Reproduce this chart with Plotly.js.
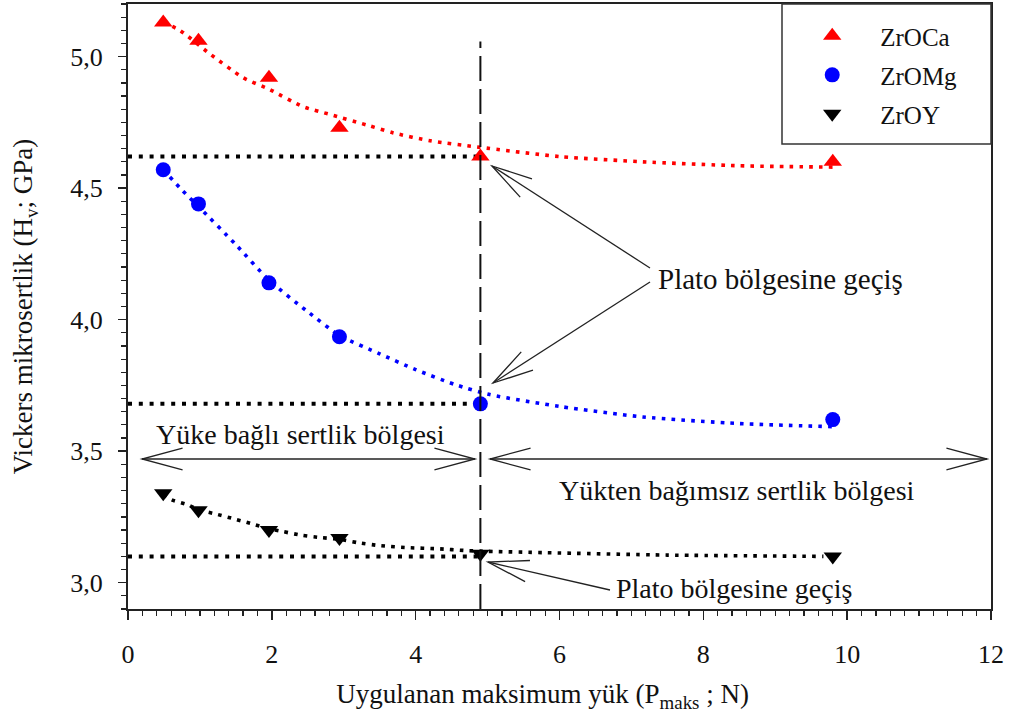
<!DOCTYPE html>
<html><head><meta charset="utf-8">
<script src="https://cdn.plot.ly/plotly-3.0.1.min.js"></script>
<style>html,body{margin:0;padding:0;background:#fff}</style>
</head><body><div id="chart" style="width:1009px;height:724px"></div>
<script>
// ---- data ----
const loadN   = [0.49, 0.98, 1.96, 2.94, 4.9, 9.8];
const hvZrOCa = [5.13, 5.06, 4.92, 4.73, 4.62, 4.60];
const hvZrOMg = [4.57, 4.44, 4.14, 3.935, 3.68, 3.62];
const hvZrOY  = [3.34, 3.275, 3.20, 3.17, 3.11, 3.10];

// dotted trend curves
const fitX_ZrOCa = [0.49, 0.72, 1.14, 1.6, 1.97, 2.43, 2.81, 3.32, 3.69, 4.2, 4.9, 6.0, 7.16, 8.5, 9.8];
const fitY_ZrOCa = [5.13, 5.10, 5.01, 4.92, 4.875, 4.81, 4.78, 4.74, 4.71, 4.68, 4.655, 4.62, 4.60, 4.585, 4.58];
const fitX_ZrOMg = [0.49, 0.76, 0.98, 1.5, 1.96, 2.5, 2.94, 3.5, 4.0, 4.55, 5.03, 6.0, 7.16, 8.5, 9.8];
const fitY_ZrOMg = [4.57, 4.49, 4.43, 4.285, 4.15, 4.03, 3.94, 3.87, 3.81, 3.753, 3.715, 3.67, 3.63, 3.605, 3.593];
const fitX_ZrOY  = [0.49, 0.61, 0.82, 0.98, 1.25, 1.51, 1.77, 1.96, 2.16, 2.42, 2.70, 2.94, 3.2, 3.5, 3.9, 4.3, 4.71, 4.9, 5.83, 7.5, 9.67];
const fitY_ZrOY  = [3.335, 3.315, 3.297, 3.278, 3.259, 3.24, 3.22, 3.205, 3.194, 3.18, 3.171, 3.165, 3.152, 3.141, 3.133, 3.129, 3.122, 3.12, 3.114, 3.105, 3.10];

// plateau reference levels
const plateauX  = [0, 4.9];
const plateauCa = [4.62, 4.62];
const plateauMg = [3.68, 3.68];
const plateauY  = [3.10, 3.10];
const transitionLoad = 4.9;

// axis ticks
const xTickVals = [0, 2, 4, 6, 8, 10, 12];
const xTickText = ['0', '2', '4', '6', '8', '10', '12'];
const yTickVals = [3.0, 3.5, 4.0, 4.5, 5.0];
const yTickText = ['3,0', '3,5', '4,0', '4,5', '5,0'];

// annotation texts
const txtLoadDep   = 'Yüke bağlı sertlik bölgesi';
const txtLoadIndep = 'Yükten bağımsız sertlik bölgesi';
const txtPlateau   = 'Plato bölgesine geçiş';

// ---- layout geometry ----
const W = 1009, H = 724;
const M = {l: 128, r: 18, t: 4, b: 115};
const XR = [0, 12], YR = [2.9, 5.2];
const pxX = (W - M.l - M.r) / (XR[1] - XR[0]);
const pxY = (H - M.t - M.b) / (YR[1] - YR[0]);
const F = 'Liberation Serif';

function arrowHead(tip, from, len, ang) {
  let dx = (from[0] - tip[0]) * pxX, dy = -(from[1] - tip[1]) * pxY;
  const n = Math.hypot(dx, dy); dx /= n; dy /= n;
  const pts = [ang, -ang].map(a => {
    const c = Math.cos(a), s = Math.sin(a);
    const vx = (dx * c - dy * s) * len, vy = (dx * s + dy * c) * len;
    return [tip[0] + vx / pxX, tip[1] - vy / pxY];
  });
  return 'M' + pts[0][0] + ',' + pts[0][1] + ' L' + tip[0] + ',' + tip[1] + ' L' + pts[1][0] + ',' + pts[1][1];
}
const AL = 42, AA = 15 * Math.PI / 180;
const lineStyle = {color: '#222', width: 1.3};
function arrow(tip, tail, both) {
  const s = [{type: 'line', xref: 'x', yref: 'y', x0: tail[0], y0: tail[1], x1: tip[0], y1: tip[1], line: lineStyle},
             {type: 'path', xref: 'x', yref: 'y', path: arrowHead(tip, tail, AL, AA), line: lineStyle}];
  if (both) s.push({type: 'path', xref: 'x', yref: 'y', path: arrowHead(tail, tip, AL, AA), line: lineStyle});
  return s;
}
const toX = px => (px - M.l) / pxX;
const toY = py => YR[1] - (py - M.t) / pxY;

const shapes = [
  {type: 'line', xref: 'x', yref: 'y', x0: transitionLoad, x1: transitionLoad, y0: YR[0], y1: 5.057,
   line: {color: '#111', width: 2, dash: '25px,8px'}},
  ...arrow([toX(475), toY(459)], [toX(142), toY(459)], true),
  ...arrow([toX(987), toY(459)], [toX(490), toY(459)], true),
  ...arrow([toX(492), toY(166)], [toX(650), toY(268)], false),
  ...arrow([toX(493), toY(383)], [toX(650), toY(282)], false),
  ...arrow([toX(488), toY(562)], [toX(610), toY(590)], false),
  {type: 'rect', xref: 'paper', yref: 'paper', x0: (782 - M.l) / (W - M.l - M.r), x1: 1, y0: (H - M.b - 144) / (H - M.t - M.b), y1: 1,
   line: {color: '#333', width: 1.5}, fillcolor: 'rgba(0,0,0,0)'}
];

const annFont = {family: F, size: 28, color: '#111'};
const annotations = [
  {text: txtLoadDep, x: toX(154), y: toY(434), xref: 'x', yref: 'y', xanchor: 'left', yanchor: 'middle', showarrow: false, font: annFont},
  {text: txtLoadIndep, x: toX(557), y: toY(490), xref: 'x', yref: 'y', xanchor: 'left', yanchor: 'middle', showarrow: false, font: annFont},
  {text: txtPlateau, x: toX(656), y: toY(279), xref: 'x', yref: 'y', xanchor: 'left', yanchor: 'middle', showarrow: false, font: {family: F, size: 29, color: '#111'}},
  {text: txtPlateau, x: toX(614), y: toY(588), xref: 'x', yref: 'y', xanchor: 'left', yanchor: 'middle', showarrow: false, font: annFont}
];

const refLine = {color: '#000', width: 4, dash: '4px,6.8px'};
const traces = [
  {x: plateauX, y: plateauCa, mode: 'lines', line: refLine, showlegend: false, hoverinfo: 'skip'},
  {x: plateauX, y: plateauMg, mode: 'lines', line: refLine, showlegend: false, hoverinfo: 'skip'},
  {x: plateauX, y: plateauY,  mode: 'lines', line: refLine, showlegend: false, hoverinfo: 'skip'},
  {x: fitX_ZrOCa, y: fitY_ZrOCa, mode: 'lines', line: {color: '#ff0000', width: 3.6, dash: '3.6px,6.2px', shape: 'spline', smoothing: 0.6}, showlegend: false, hoverinfo: 'skip'},
  {x: fitX_ZrOMg, y: fitY_ZrOMg, mode: 'lines', line: {color: '#0000ff', width: 3.6, dash: '3.6px,6.2px', shape: 'spline', smoothing: 0.6}, showlegend: false, hoverinfo: 'skip'},
  {x: fitX_ZrOY,  y: fitY_ZrOY,  mode: 'lines', line: {color: '#000000', width: 3.6, dash: '3.6px,6.2px', shape: 'spline', smoothing: 0.6}, showlegend: false, hoverinfo: 'skip'},
  {x: loadN, y: hvZrOCa, name: 'ZrOCa', legendgroup: 'ca', mode: 'markers', marker: {symbol: 'triangle-up', size: 16, color: '#ff0000'}},
  {x: loadN, y: hvZrOMg, name: 'ZrOMg', legendgroup: 'mg', mode: 'markers', marker: {symbol: 'circle', size: 15, color: '#0000ff'}},
  {x: loadN, y: hvZrOY,  name: 'ZrOY',  legendgroup: 'y',  mode: 'markers', marker: {symbol: 'triangle-down', size: 16, color: '#000000'}}
];

const axisCommon = {
  showline: true, mirror: true, linecolor: '#222', linewidth: 2,
  showgrid: false, zeroline: false, ticks: 'outside', tickcolor: '#222', tickwidth: 1.5,
  tickfont: {family: F, size: 26, color: '#111'}, automargin: false
};

const layout = {
  width: W, height: H, margin: M,
  paper_bgcolor: '#fff', plot_bgcolor: '#fff',
  font: {family: F, size: 26, color: '#111'},
  showlegend: true,
  legend: {x: 0.7604, y: 0.985, xanchor: 'left', yanchor: 'top', bgcolor: 'rgba(0,0,0,0)', borderwidth: 0,
           font: {family: F, size: 25, color: '#111'}, tracegroupgap: 3.5, itemsizing: 'trace', itemwidth: 86},
  xaxis: Object.assign({}, axisCommon, {
    range: XR, tickmode: 'array', tickvals: xTickVals, ticktext: xTickText, ticklen: 9, ticklabelstandoff: 12,
    minor: {dtick: 0.2, tick0: 0, ticks: 'outside', ticklen: 5, tickcolor: '#222', tickwidth: 1.2, showgrid: false},
    title: {text: 'Uygulanan maksimum yük (P<sub>maks</sub> ; N)&nbsp;&nbsp;&nbsp;&nbsp;&nbsp;', font: {family: F, size: 27, color: '#111'}, standoff: 16}
  }),
  yaxis: Object.assign({}, axisCommon, {
    range: YR, tickmode: 'array', tickvals: yTickVals, ticktext: yTickText, ticklen: 8, ticklabelstandoff: 10,
    minor: {dtick: 0.05, tick0: 3, ticks: 'outside', ticklen: 5, tickcolor: '#222', tickwidth: 1.2, showgrid: false},
    title: {text: 'Vickers mikrosertlik (H<sub>v</sub>; GPa)', font: {family: F, size: 27, color: '#111'}, standoff: 30}
  }),
  shapes: shapes,
  annotations: annotations
};

Plotly.newPlot('chart', traces, layout, {displayModeBar: false, staticPlot: true});
</script></body></html>
